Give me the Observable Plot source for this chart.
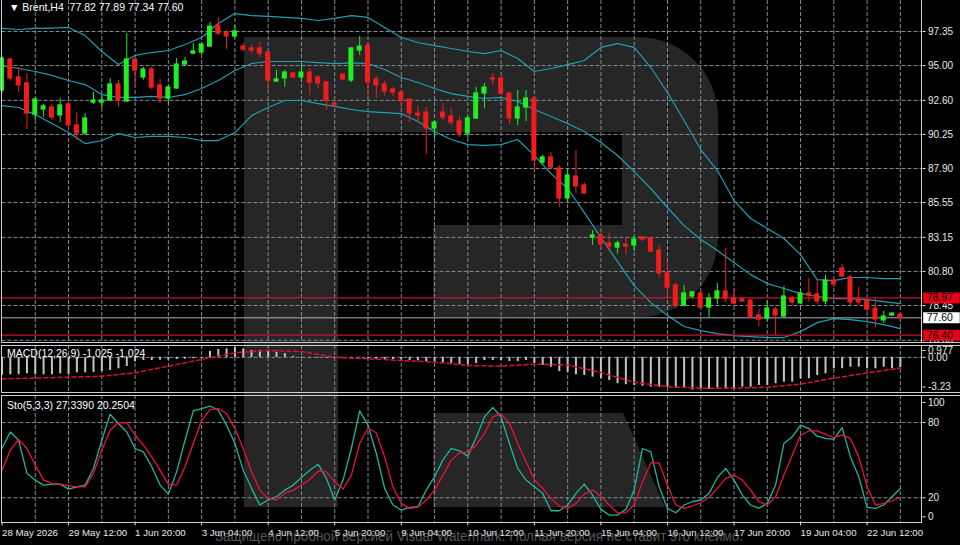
<!DOCTYPE html>
<html lang="ru">
<head>
<meta charset="utf-8">
<script src="https://cdn.jsdelivr.net/npm/d3@7"></script>
<script src="https://cdn.jsdelivr.net/npm/@observablehq/plot@0.6"></script>
<style>
  html, body { margin:0; padding:0; background:#000; }
  #chart { position:relative; width:960px; height:545px; background:#000; overflow:hidden; }
  #chart svg { overflow: visible; }
</style>
</head>
<body>
<div id="chart"></div>
<script>
// ---------------- DATA ----------------
const symbolTitle = "▼ Brent,H4  77.82 77.89 77.34 77.60";
const macdTitle = "MACD(12,26,9) -1.025 -1.024";
const stoTitle = "Sto(5,3,3) 27.3390 20.2504";
const watermarkText = "Защищено пробной версией Visual Watermark. Полная версия не ставит это клеймо.";

const opens = [93.28,95.42,94.18,93.77,91.62,91.97,92.11,91.56,92.32,90.87,
 90.31,92.45,92.45,92.59,93.70,92.52,95.42,94.18,94.73,93.63,
 92.73,93.42,95.07,95.83,95.90,96.31,97.76,97.28,97.01,96.31,
 96.18,96.18,95.90,93.90,94.11,94.45,94.18,94.52,94.18,93.83,
 92.38,94.38,93.97,96.04,96.38,94.04,93.70,93.35,93.14,92.66,
 91.69,91.76,90.66,91.76,91.49,91.14,90.31,91.35,93.07,94.11,
 94.11,93.07,91.35,92.11,92.73,88.31,88.66,87.90,85.83,87.35,
 86.73,83.14,83.28,82.72,82.45,82.66,82.59,83.14,83.07,82.24,
 80.66,79.83,78.45,79.07,79.28,78.31,78.93,79.42,78.93,78.86,
 78.79,77.76,77.55,78.17,77.69,78.93,78.59,79.28,79.21,78.73,
 80.17,81.00,80.38,78.86,78.79,78.24,77.42,77.76,77.82];
const highs = [95.60,95.50,94.87,94.45,92.80,92.32,92.32,92.73,92.40,91.76,
 91.69,93.14,92.93,94.11,93.97,97.21,95.49,94.87,94.87,94.04,
 93.63,95.49,95.56,96.52,96.59,97.97,98.32,97.42,97.76,96.52,
 96.45,96.59,95.97,94.66,94.66,94.50,95.14,94.80,94.30,93.90,
 92.59,94.45,96.25,97.01,96.52,94.25,93.90,93.50,93.35,92.73,
 92.18,92.11,91.20,92.38,92.04,91.50,91.50,93.49,93.77,94.45,
 94.20,93.10,93.28,93.28,92.80,88.80,89.00,88.11,87.90,89.14,
 86.90,83.62,83.60,83.42,82.90,83.10,83.21,83.21,83.20,82.59,
 81.41,80.00,79.83,79.40,79.40,79.28,79.97,82.38,79.55,78.90,
 78.90,78.17,78.79,78.30,79.76,79.07,79.55,80.31,80.17,80.52,
 80.31,81.28,80.52,79.69,78.90,78.93,78.04,77.95,77.89];
const lows = [93.10,93.90,93.14,90.59,91.21,91.42,91.21,91.07,90.66,89.83,
 90.18,92.32,92.04,92.50,92.11,92.45,93.63,94.00,93.35,92.38,
 92.32,93.35,94.93,95.76,95.70,96.25,97.07,96.11,96.87,95.97,
 95.80,95.56,93.28,93.83,93.49,94.10,93.83,92.93,93.40,91.90,
 92.11,93.97,93.83,95.70,92.93,92.73,92.90,92.90,92.11,91.07,
 91.07,88.87,89.97,91.21,90.86,90.04,89.97,91.28,92.04,93.63,
 92.93,90.93,90.86,91.14,87.76,88.11,87.80,85.21,85.55,86.18,
 86.10,82.59,82.45,82.17,82.00,81.97,82.17,82.86,82.10,80.38,
 79.14,78.24,78.35,78.90,78.20,77.62,78.50,78.66,78.45,78.66,
 77.50,77.00,77.35,76.38,77.55,78.45,78.50,78.70,78.50,78.50,
 79.69,80.38,78.45,78.45,77.97,76.93,77.20,77.70,77.34];
const closes = [95.49,94.11,93.63,91.69,92.66,92.18,91.42,92.25,90.87,90.31,
 91.35,92.59,92.59,93.70,92.59,95.42,94.66,94.73,93.49,92.73,
 93.49,95.07,95.28,95.97,96.45,97.69,97.21,97.01,97.35,96.11,
 96.04,95.83,93.97,94.04,94.52,94.18,94.52,93.83,93.77,92.59,
 92.25,94.04,96.18,96.31,93.83,93.63,93.21,93.14,92.59,91.69,
 91.56,90.66,91.07,91.42,91.07,90.31,91.35,93.07,93.49,94.04,
 93.07,91.35,92.11,92.73,88.45,88.66,87.97,85.83,87.42,86.66,
 86.18,83.28,82.66,82.52,82.73,82.52,83.00,83.00,82.17,80.66,
 79.69,78.45,79.28,79.35,78.31,78.93,79.42,78.93,78.59,78.73,
 77.62,77.48,78.24,77.76,79.07,78.66,79.28,79.14,78.73,80.17,
 79.90,80.45,78.66,78.66,78.17,77.48,77.69,77.89,77.60];

// Bollinger bands, read every 2nd bar
const bandStep = 2;
const upperBand = [97.56,97.49,97.56,97.59,97.63,97.07,95.97,95.07,95.70,95.90,
 96.04,96.45,96.94,97.90,98.59,98.45,98.39,98.32,98.25,98.11,
 98.25,98.45,98.32,97.63,96.94,96.59,96.38,96.18,95.97,95.83,
 96.04,95.49,94.59,94.80,95.07,95.35,96.25,96.52,96.25,94.87,
 93.14,91.21,89.21,87.76,85.69,84.45,83.76,83.07,81.96,80.24,
 80.17,80.38,80.38,80.31,80.31];
const middleBand = [95.00,94.80,94.59,94.32,93.97,93.69,93.00,92.80,92.80,92.87,
 92.80,93.00,93.42,93.97,94.66,95.14,95.28,95.28,95.28,95.21,
 95.14,95.18,95.14,94.73,94.18,93.83,93.42,93.07,92.87,92.73,
 92.80,92.52,91.97,91.49,91.00,90.45,89.69,88.80,87.69,86.52,
 85.21,83.96,83.00,82.24,81.41,80.58,79.96,79.62,79.27,79.07,
 78.93,78.93,78.86,78.72,78.58];
const lowerBand = [92.24,92.11,91.62,91.00,90.38,89.62,89.83,90.31,90.04,90.11,
 90.11,90.04,89.83,89.83,90.38,91.55,92.11,92.59,92.59,92.38,
 92.18,91.97,91.83,91.76,91.69,91.14,90.45,89.90,89.55,89.49,
 89.55,89.90,88.81,87.55,86.52,84.86,83.14,81.48,79.82,78.65,
 77.76,77.00,76.72,76.51,76.37,76.31,76.24,76.24,76.65,77.27,
 77.55,77.48,77.34,77.13,76.86];

// MACD histogram per bar, signal read every 4th bar
const macdHist = [-1.78,-1.72,-1.72,-1.62,-1.72,-1.72,-1.72,-1.62,-1.72,-1.53,
 -1.53,-1.50,-1.40,-1.30,-1.13,-0.90,-0.45,-0.31,-0.31,-0.28,
 -0.25,-0.21,-0.18,-0.14,-0.08,0.58,0.78,0.85,0.977,0.85,
 0.68,0.68,0.58,0.51,0.36,0.10,0.05,-0.03,-0.05,-0.08,
 -0.10,-0.12,-0.05,0.03,-0.10,-0.18,-0.21,-0.21,-0.25,-0.31,
 -0.35,-0.45,-0.50,-0.55,-0.60,-0.70,-0.75,-0.60,-0.31,-0.31,
 -0.31,-0.41,-0.41,-0.31,-0.60,-0.80,-0.97,-1.40,-1.47,-1.72,
 -1.79,-1.96,-2.12,-2.29,-2.61,-2.71,-2.78,-2.85,-2.95,-2.95,
 -2.95,-3.05,-3.05,-3.23,-3.11,-3.15,-3.05,-3.11,-3.11,-2.95,
 -2.95,-2.78,-2.78,-2.61,-2.46,-2.46,-2.12,-2.12,-1.79,-1.62,
 -1.13,-1.13,-0.97,-0.97,-1.13,-1.13,-0.97,-1.10,-1.025];
const signalStep = 4;
const macdSignal = [-2.12,-2.05,-1.96,-1.86,-1.53,-0.87,-0.21,0.45,0.68,0.58,
 0.00,-0.14,-0.31,-0.47,-0.80,-0.87,-0.66,-0.75,-1.50,-2.46,
 -2.90,-3.05,-3.05,-2.95,-2.65,-2.05,-1.55,-1.05];

// Stochastic %K and %D per bar
const stoK = [59.3,72.5,65.9,39.4,34.1,30.1,30.9,30.9,26.9,28.7,
 30.1,43.4,65.9,86.6,79.2,72.5,59.3,56.6,44.7,30.1,
 22.9,40.7,65.9,89.3,91.2,93.2,89.8,77.9,63.3,42.0,
 27.5,14.2,18.2,20.8,26.1,30.1,36.2,42.0,46.8,35.4,
 18.2,34.1,59.3,89.3,77.9,55.3,27.5,14.2,10.2,12.3,
 12.8,26.1,36.7,50.0,59.3,57.4,53.2,68.0,84.5,92.0,
 84.5,63.3,43.4,34.1,28.7,23.5,9.6,9.6,14.2,23.5,
 30.9,22.1,10.7,6.2,6.2,10.7,26.1,59.3,56.6,28.7,
 11.5,8.0,14.2,16.8,18.2,23.5,36.2,43.4,34.1,22.1,
 14.2,11.5,15.5,30.1,63.3,68.6,77.9,75.2,69.1,67.3,
 66.5,76.0,52.6,36.7,12.3,11.5,14.2,20.8,27.34];
const stoD = [42.0,58.0,66.5,59.3,46.0,34.1,31.4,30.9,29.6,28.7,
 28.7,39.4,58.0,73.9,80.0,79.7,69.9,61.9,52.6,42.0,
 30.9,30.1,44.7,63.3,81.8,90.4,91.2,87.2,75.2,59.3,
 40.7,26.1,19.5,18.2,23.5,26.1,30.1,34.6,41.2,40.7,
 32.7,26.9,38.1,63.3,75.7,71.7,52.6,28.7,15.5,11.5,
 12.3,18.2,26.1,38.1,50.0,55.8,56.6,61.9,71.3,84.5,
 86.9,79.2,63.3,48.8,34.6,27.5,19.5,13.4,11.5,15.5,
 22.9,26.1,21.3,14.2,8.0,8.0,14.2,32.7,47.8,47.8,
 30.1,14.2,11.5,13.4,16.0,20.2,27.5,35.4,38.1,34.1,
 26.1,16.8,14.2,20.8,38.1,54.0,69.9,73.3,73.3,70.6,
 68.0,69.9,67.3,52.6,28.7,14.2,15.5,17.6,20.25];

// axes
const priceTicks = [97.35, 95.00, 92.60, 90.25, 87.90, 85.55, 83.15, 80.80, 78.45, 76.05];
const levelValues = [78.97, 77.60, 76.40];
const levelKinds = ["red", "bid", "red"];
const dateBars = [0, 8, 16, 24, 32, 40, 48, 56, 64, 72, 80, 88, 96, 104];
const dateLabels = ["28 May 2026","29 May 12:00","1 Jun 20:00","3 Jun 04:00","4 Jun 12:00",
 "5 Jun 20:00","9 Jun 04:00","10 Jun 12:00","11 Jun 20:00","15 Jun 04:00",
 "16 Jun 12:00","17 Jun 20:00","19 Jun 04:00","22 Jun 12:00"];
const macdTicks = [0.977, 0.00, -3.23];
const stoTicks = [100, 80, 20, 0];
const stoLevels = [20, 80];

// ---------------- TABLES ----------------
const bars = opens.map((o, i) => ({i, o, h: highs[i], l: lows[i], c: closes[i],
  lo: Math.min(o, closes[i]), hi: Math.max(o, closes[i]), up: closes[i] >= o}));
const upBars = bars.filter(d => d.up), downBars = bars.filter(d => !d.up);
const bandRows = upperBand.map((u, k) => ({i: k * bandStep, u, m: middleBand[k], l: lowerBand[k]}));
const macdRows = macdHist.map((v, i) => ({i, v}));
const signalRows = macdSignal.map((v, k) => ({i: k * signalStep, v}));
const stoRows = stoK.map((k, i) => ({i, k, d: stoD[i]}));
const levelRows = levelValues.map((v, j) => ({v, kind: levelKinds[j]}));
const gridBars = d3.range(4, bars.length, 4);

// ---------------- STYLE ----------------
const W = 960, ML = 1.5, MR = 38.5;
const X_DOMAIN = [0, 110.6];
const BOX_X1 = 110.8, BOX_X2 = 115.2;
const FONT = "'Liberation Sans', Arial, sans-serif";
const GREEN = "#1fee1f", RED = "#f31c1c", BAND = "#1f9fb4";
const gridStyle = {stroke: "#7f8b96", strokeDasharray: "4,2", strokeWidth: 1};
const baseStyle = {background: "transparent", color: "#e8e8e8", fontFamily: FONT, fontSize: "10px", overflow: "visible"};
const chart = document.getElementById("chart");
const NS = "http://www.w3.org/2000/svg";
function addLayer(html, z) {
  const s = document.createElementNS(NS, "svg");
  s.setAttribute("width", W); s.setAttribute("height", 545);
  Object.assign(s.style, {position: "absolute", left: "0px", top: "0px", zIndex: z});
  s.innerHTML = html;
  chart.appendChild(s);
}
function addPlot(p, top) {
  Object.assign(p.style, {position: "absolute", left: "0px", top: top + "px", zIndex: 1});
  chart.appendChild(p);
}

// watermark logo (decoration, behind everything)
addLayer(`
  <path d="M244,37 H638 A80,80 0 0 1 718,117 V237 A80,80 0 0 1 638,317 H433 V225 H622 V132 H338 V507 H244 Z" fill="#262626"/>
  <path d="M433,413 H623 L665,507 H433 Z" fill="#262626"/>`, 0);

// ---------------- MAIN PANE ----------------
const main = Plot.plot({
  width: W, height: 342, marginLeft: ML, marginRight: MR, marginTop: 0, marginBottom: 0,
  x: {domain: X_DOMAIN, axis: null},
  y: {domain: [75.898, 99.489], axis: null},
  style: baseStyle,
  marks: [
    Plot.ruleX(gridBars, gridStyle),
    Plot.ruleY(priceTicks, gridStyle),
    Plot.line(bandRows, {x: "i", y: "u", stroke: BAND, strokeWidth: 1.2}),
    Plot.line(bandRows, {x: "i", y: "m", stroke: BAND, strokeWidth: 1.2}),
    Plot.line(bandRows, {x: "i", y: "l", stroke: BAND, strokeWidth: 1.2}),
    Plot.ruleY(levelRows.filter(d => d.kind === "red"), {y: "v", stroke: "#c8102e", strokeWidth: 1.2}),
    Plot.ruleY(levelRows.filter(d => d.kind === "bid"), {y: "v", stroke: "#a9b1b9", strokeWidth: 1}),
    Plot.ruleX(upBars, {x: "i", y1: "l", y2: "h", stroke: GREEN, strokeWidth: 1}),
    Plot.ruleX(downBars, {x: "i", y1: "l", y2: "h", stroke: RED, strokeWidth: 1}),
    Plot.rect(upBars, {x1: d => d.i - 0.3, x2: d => d.i + 0.3, y1: "lo", y2: "hi", fill: GREEN, insetTop: -0.6, insetBottom: -0.6}),
    Plot.rect(downBars, {x1: d => d.i - 0.3, x2: d => d.i + 0.3, y1: "lo", y2: "hi", fill: RED, insetTop: -0.6, insetBottom: -0.6}),
    Plot.axisY(priceTicks, {anchor: "right", tickFormat: d => d.toFixed(2), tickSize: 3, tickPadding: 3, label: null}),
    Plot.ruleY(levelRows.filter(d => d.kind === "red"), {y: "v", x1: () => BOX_X1, x2: () => BOX_X2, stroke: "#e8001a", strokeWidth: 11}),
    Plot.ruleY(levelRows.filter(d => d.kind === "bid"), {y: "v", x1: () => BOX_X1, x2: () => BOX_X2, stroke: "#ffffff", strokeWidth: 11}),
    Plot.text(levelRows, {x: () => BOX_X1, y: "v", text: d => d.v.toFixed(2), textAnchor: "start", dx: 3, fill: "#000", fontSize: 10.5}),
    Plot.text([symbolTitle], {frameAnchor: "top-left", dx: 7, dy: 3, lineAnchor: "top", fill: "#ffffff", fontSize: 10.5})
  ]
});
addPlot(main, 0);

// ---------------- MACD PANE ----------------
const macd = Plot.plot({
  width: W, height: 47, marginLeft: ML, marginRight: MR, marginTop: 2, marginBottom: 2.5,
  x: {domain: X_DOMAIN, axis: null},
  y: {domain: [-3.23, 0.977], axis: null},
  style: baseStyle,
  marks: [
    Plot.ruleX(gridBars, {...gridStyle, insetTop: -2, insetBottom: -2.5}),
    Plot.ruleY([0], gridStyle),
    Plot.ruleX(macdRows, {x: "i", y1: () => 0, y2: "v", stroke: "#c4c4c4", strokeWidth: 2}),
    Plot.line(signalRows, {x: "i", y: "v", stroke: "#dc1030", strokeWidth: 1.5, strokeDasharray: "4,3"}),
    Plot.axisY([macdTicks[0]], {anchor: "right", tickFormat: d => d.toFixed(3), tickSize: 3, tickPadding: 3, dy: 3, label: null}),
    Plot.axisY([macdTicks[1]], {anchor: "right", tickFormat: d => d.toFixed(2), tickSize: 3, tickPadding: 3, label: null}),
    Plot.axisY([macdTicks[2]], {anchor: "right", tickFormat: d => d.toFixed(2), tickSize: 3, tickPadding: 3, dy: -3, label: null}),
    Plot.text([macdTitle], {frameAnchor: "top-left", dx: 5, dy: 2, lineAnchor: "top", fill: "#ffffff", fontSize: 10.5})
  ]
});
addPlot(macd, 345);

// ---------------- STOCHASTIC PANE ----------------
const sto = Plot.plot({
  width: W, height: 150, marginLeft: ML, marginRight: MR, marginTop: 2, marginBottom: 22.7,
  x: {domain: X_DOMAIN, label: null},
  y: {domain: [0, 100], axis: null, label: null},
  style: baseStyle,
  marks: [
    Plot.ruleX(gridBars, {...gridStyle, insetTop: -2}),
    Plot.ruleY(stoLevels, gridStyle),
    Plot.line(stoRows, {x: "i", y: "k", stroke: "#22b39b", strokeWidth: 1.3}),
    Plot.line(stoRows, {x: "i", y: "d", stroke: "#ec1230", strokeWidth: 1.3}),
    Plot.axisY([stoTicks[0]], {anchor: "right", tickSize: 3, tickPadding: 3, dy: 5, label: null}),
    Plot.axisY([stoTicks[1], stoTicks[2]], {anchor: "right", tickSize: 3, tickPadding: 3, label: null}),
    Plot.axisY([stoTicks[3]], {anchor: "right", tickSize: 3, tickPadding: 3, dy: -6, label: null}),
    Plot.axisX(dateBars, {anchor: "bottom", label: null, tickFormat: d => dateLabels[dateBars.indexOf(d)], textAnchor: "start", tickSize: 3, tickPadding: 3, fontSize: 9.7}),
    Plot.text([stoTitle], {frameAnchor: "top-left", dx: 5, dy: 4, lineAnchor: "top", fill: "#ffffff", fontSize: 10.5})
  ]
});
addPlot(sto, 395);

// pane frames and watermark caption (decoration, on top)
addLayer(`
  <g stroke="#cfcfcf" stroke-width="1" fill="none" shape-rendering="crispEdges">
    <rect x="1.5" y="-1" width="920" height="343"/>
    <rect x="1.5" y="345" width="920" height="47"/>
    <rect x="1.5" y="395" width="920" height="127"/>
    <line x1="921.5" y1="342" x2="960" y2="342"/>
    <line x1="921.5" y1="345" x2="960" y2="345"/>
    <line x1="921.5" y1="392" x2="960" y2="392"/>
    <line x1="921.5" y1="395" x2="960" y2="395"/>
  </g>
  <text x="215" y="541" font-size="14" textLength="528" lengthAdjust="spacingAndGlyphs"
    fill="#a0a0a0" fill-opacity="0.55" font-family="${FONT}">${watermarkText}</text>`, 2);
</script>
</body>
</html>
